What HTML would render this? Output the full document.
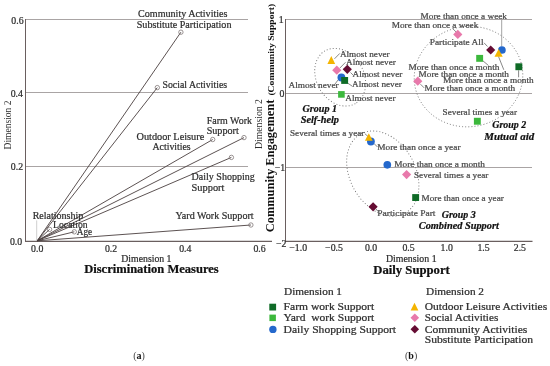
<!DOCTYPE html>
<html><head><meta charset="utf-8"><style>
html,body{margin:0;padding:0;background:#fff;}
svg{display:block;font-family:"Liberation Serif", serif;will-change:transform;}
</style></head><body>
<svg width="550" height="366" viewBox="0 0 550 366">
<rect width="550" height="366" fill="#fff"/>
<line x1="25.5" y1="19.5" x2="248.0" y2="19.5" stroke="#a9a4a4" stroke-width="1"/>
<line x1="25.5" y1="92.5" x2="248.0" y2="92.5" stroke="#a9a4a4" stroke-width="1"/>
<line x1="25.5" y1="166.5" x2="248.0" y2="166.5" stroke="#a9a4a4" stroke-width="1"/>
<line x1="25.5" y1="19.0" x2="25.5" y2="242.0" stroke="#6a5f5f" stroke-width="1"/>
<line x1="25.0" y1="241.4" x2="272.0" y2="241.4" stroke="#6a5f5f" stroke-width="1.1"/>
<text x="23.6" y="24.1" font-size="9.8" text-anchor="end" fill="#2e2e2e" stroke="#2e2e2e" stroke-width="0.22">0.6</text>
<text x="22.9" y="96.7" font-size="9.8" text-anchor="end" fill="#2e2e2e" stroke="#2e2e2e" stroke-width="0.22">0.4</text>
<text x="23.1" y="169.9" font-size="9.8" text-anchor="end" fill="#2e2e2e" stroke="#2e2e2e" stroke-width="0.22">0.2</text>
<text x="22.2" y="245.2" font-size="9.8" text-anchor="end" fill="#2e2e2e" stroke="#2e2e2e" stroke-width="0.22">0.0</text>
<text x="37.2" y="252.0" font-size="9.8" text-anchor="middle" fill="#2e2e2e" stroke="#2e2e2e" stroke-width="0.22">0.0</text>
<text x="111.1" y="252.0" font-size="9.8" text-anchor="middle" fill="#2e2e2e" stroke="#2e2e2e" stroke-width="0.22">0.2</text>
<text x="185.3" y="252.0" font-size="9.8" text-anchor="middle" fill="#2e2e2e" stroke="#2e2e2e" stroke-width="0.22">0.4</text>
<text x="259.6" y="252.0" font-size="9.8" text-anchor="middle" fill="#2e2e2e" stroke="#2e2e2e" stroke-width="0.22">0.6</text>
<text x="121.3" y="261.8" font-size="9.4" fill="#2e2e2e" stroke="#2e2e2e" stroke-width="0.22" textLength="50.2" lengthAdjust="spacingAndGlyphs">Dimension 1</text>
<text x="84.2" y="273.2" font-size="11.6" font-weight="bold" fill="#111" stroke="#111" stroke-width="0.22" textLength="134.5" lengthAdjust="spacingAndGlyphs">Discrimination Measures</text>
<text transform="translate(10.5,125) rotate(-90)" x="0" y="0" font-size="9.4" text-anchor="middle" fill="#2e2e2e" textLength="49" lengthAdjust="spacingAndGlyphs">Dimension 2</text>
<line x1="36.7" y1="220.4" x2="36.7" y2="240.5" stroke="#cfcfcf" stroke-width="1"/>
<line x1="37.2" y1="240.8" x2="180.9" y2="32.2" stroke="#4a3e3e" stroke-width="0.9"/>
<line x1="37.2" y1="240.8" x2="157.3" y2="87.6" stroke="#4a3e3e" stroke-width="0.9"/>
<line x1="37.2" y1="240.8" x2="212.7" y2="139.5" stroke="#4a3e3e" stroke-width="0.9"/>
<line x1="37.2" y1="240.8" x2="244.0" y2="137.6" stroke="#4a3e3e" stroke-width="0.9"/>
<line x1="37.2" y1="240.8" x2="231.4" y2="157.4" stroke="#4a3e3e" stroke-width="0.9"/>
<line x1="37.2" y1="240.8" x2="250.9" y2="225.0" stroke="#4a3e3e" stroke-width="0.9"/>
<line x1="37.2" y1="240.8" x2="49.6" y2="229.4" stroke="#4a3e3e" stroke-width="0.9"/>
<line x1="37.2" y1="240.8" x2="74.3" y2="231.8" stroke="#4a3e3e" stroke-width="0.9"/>
<circle cx="180.9" cy="32.2" r="2.2" fill="none" stroke="#7a7070" stroke-width="0.75"/>
<circle cx="157.3" cy="87.6" r="2.2" fill="none" stroke="#7a7070" stroke-width="0.75"/>
<circle cx="212.7" cy="139.5" r="2.2" fill="none" stroke="#7a7070" stroke-width="0.75"/>
<circle cx="244" cy="137.6" r="2.2" fill="none" stroke="#7a7070" stroke-width="0.75"/>
<circle cx="231.4" cy="157.4" r="2.2" fill="none" stroke="#7a7070" stroke-width="0.75"/>
<circle cx="250.9" cy="225" r="2.2" fill="none" stroke="#7a7070" stroke-width="0.75"/>
<circle cx="49.6" cy="229.4" r="2.2" fill="none" stroke="#7a7070" stroke-width="0.75"/>
<circle cx="74.3" cy="231.8" r="2.2" fill="none" stroke="#7a7070" stroke-width="0.75"/>
<text x="138.0" y="17.3" font-size="10.1" fill="#2e2e2e" stroke="#2e2e2e" stroke-width="0.22" textLength="89.5" lengthAdjust="spacingAndGlyphs">Community Activities</text>
<text x="136.7" y="28.2" font-size="10.1" fill="#2e2e2e" stroke="#2e2e2e" stroke-width="0.22" textLength="94.8" lengthAdjust="spacingAndGlyphs">Substitute Participation</text>
<text x="162.5" y="88.2" font-size="10.1" fill="#2e2e2e" stroke="#2e2e2e" stroke-width="0.22" textLength="64.6" lengthAdjust="spacingAndGlyphs">Social Activities</text>
<text x="206.7" y="124.2" font-size="10.1" fill="#2e2e2e" stroke="#2e2e2e" stroke-width="0.22" textLength="45.3" lengthAdjust="spacingAndGlyphs">Farm Work</text>
<text x="206.7" y="134.0" font-size="10.1" fill="#2e2e2e" stroke="#2e2e2e" stroke-width="0.22" textLength="32.0" lengthAdjust="spacingAndGlyphs">Support</text>
<text x="136.5" y="140.0" font-size="10.1" fill="#2e2e2e" stroke="#2e2e2e" stroke-width="0.22" textLength="67.7" lengthAdjust="spacingAndGlyphs">Outdoor Leisure</text>
<text x="152.5" y="150.0" font-size="10.1" fill="#2e2e2e" stroke="#2e2e2e" stroke-width="0.22" textLength="38.2" lengthAdjust="spacingAndGlyphs">Activities</text>
<text x="191.6" y="180.0" font-size="10.1" fill="#2e2e2e" stroke="#2e2e2e" stroke-width="0.22" textLength="63.1" lengthAdjust="spacingAndGlyphs">Daily Shopping</text>
<text x="191.6" y="190.9" font-size="10.1" fill="#2e2e2e" stroke="#2e2e2e" stroke-width="0.22" textLength="32.8" lengthAdjust="spacingAndGlyphs">Support</text>
<text x="175.6" y="218.6" font-size="10.1" fill="#2e2e2e" stroke="#2e2e2e" stroke-width="0.22" textLength="78.0" lengthAdjust="spacingAndGlyphs">Yard Work Support</text>
<text x="32.7" y="218.8" font-size="10.1" fill="#2e2e2e" stroke="#2e2e2e" stroke-width="0.22" textLength="50.6" lengthAdjust="spacingAndGlyphs">Relationship</text>
<text x="53.1" y="228.4" font-size="10.1" fill="#2e2e2e" stroke="#2e2e2e" stroke-width="0.22" textLength="34.5" lengthAdjust="spacingAndGlyphs">Location</text>
<text x="76.8" y="234.5" font-size="10.1" fill="#2e2e2e" stroke="#2e2e2e" stroke-width="0.22" textLength="15.4" lengthAdjust="spacingAndGlyphs">Age</text>
<line x1="285.5" y1="19.5" x2="532.0" y2="19.5" stroke="#a9a4a4" stroke-width="1"/>
<line x1="285.5" y1="93.5" x2="532.0" y2="93.5" stroke="#a9a4a4" stroke-width="1"/>
<line x1="285.5" y1="167.5" x2="532.0" y2="167.5" stroke="#a9a4a4" stroke-width="1"/>
<line x1="285.5" y1="19.0" x2="285.5" y2="242.0" stroke="#6a5f5f" stroke-width="1"/>
<line x1="285.0" y1="241.4" x2="532.5" y2="241.4" stroke="#6a5f5f" stroke-width="1.1"/>
<text x="283.6" y="23.1" font-size="9.8" text-anchor="end" fill="#2e2e2e" stroke="#2e2e2e" stroke-width="0.22">1</text>
<text x="284.4" y="96.9" font-size="9.8" text-anchor="end" fill="#2e2e2e" stroke="#2e2e2e" stroke-width="0.22">0</text>
<text x="285.2" y="170.9" font-size="9.8" text-anchor="end" fill="#2e2e2e" stroke="#2e2e2e" stroke-width="0.22">−1</text>
<text x="286.4" y="246.6" font-size="9.8" text-anchor="end" fill="#2e2e2e" stroke="#2e2e2e" stroke-width="0.22">−2</text>
<text x="298.2" y="251.3" font-size="9.8" text-anchor="middle" fill="#2e2e2e" stroke="#2e2e2e" stroke-width="0.22">−1.0</text>
<text x="334.0" y="251.3" font-size="9.8" text-anchor="middle" fill="#2e2e2e" stroke="#2e2e2e" stroke-width="0.22">−0.5</text>
<text x="371.0" y="251.3" font-size="9.8" text-anchor="middle" fill="#2e2e2e" stroke="#2e2e2e" stroke-width="0.22">0.0</text>
<text x="408.5" y="251.3" font-size="9.8" text-anchor="middle" fill="#2e2e2e" stroke="#2e2e2e" stroke-width="0.22">0.5</text>
<text x="446.7" y="251.3" font-size="9.8" text-anchor="middle" fill="#2e2e2e" stroke="#2e2e2e" stroke-width="0.22">1.0</text>
<text x="483.5" y="251.3" font-size="9.8" text-anchor="middle" fill="#2e2e2e" stroke="#2e2e2e" stroke-width="0.22">1.5</text>
<text x="519.9" y="251.3" font-size="9.8" text-anchor="middle" fill="#2e2e2e" stroke="#2e2e2e" stroke-width="0.22">2.5</text>
<text x="386.0" y="261.8" font-size="9.4" fill="#2e2e2e" stroke="#2e2e2e" stroke-width="0.22" textLength="50.6" lengthAdjust="spacingAndGlyphs">Dimension 1</text>
<text x="373.3" y="273.8" font-size="11.6" font-weight="bold" fill="#111" stroke="#111" stroke-width="0.22" textLength="76.5" lengthAdjust="spacingAndGlyphs">Daily Support</text>
<text transform="translate(262.2,124) rotate(-90)" x="0" y="0" font-size="9.4" text-anchor="middle" fill="#2e2e2e" textLength="50" lengthAdjust="spacingAndGlyphs">Dimension 2</text>
<text transform="translate(274.0,232.2) rotate(-90)" x="0" y="0" font-size="12.2" font-weight="bold" fill="#111" textLength="132.6" lengthAdjust="spacingAndGlyphs">Community Engagement</text>
<text transform="translate(273.6,95.6) rotate(-90)" x="0" y="0" font-size="8.8" font-weight="bold" fill="#111" textLength="91.8" lengthAdjust="spacingAndGlyphs">(Community Support)</text>
<ellipse cx="340.2" cy="77.2" rx="30.4" ry="23.6" transform="rotate(60.1 340.2 77.2)" stroke="#707070" stroke-width="0.9" stroke-dasharray="1 2.1" fill="none"/>
<ellipse cx="468.5" cy="76.6" rx="54.4" ry="50.1" transform="rotate(-9.9 468.5 76.6)" stroke="#707070" stroke-width="0.9" stroke-dasharray="1 2.1" fill="none"/>
<ellipse cx="382.8" cy="173.6" rx="45.4" ry="32.6" transform="rotate(60.5 382.8 173.6)" stroke="#707070" stroke-width="0.9" stroke-dasharray="1 2.1" fill="none"/>
<line x1="334.5" y1="58.8" x2="339.8" y2="53.4" stroke="#555" stroke-width="0.7"/>
<line x1="339.6" y1="68.3" x2="345.5" y2="62.3" stroke="#555" stroke-width="0.7"/>
<line x1="350.5" y1="72.5" x2="353.5" y2="75.5" stroke="#555" stroke-width="0.7"/>
<line x1="347.5" y1="83.0" x2="352.0" y2="86.0" stroke="#555" stroke-width="0.7"/>
<line x1="338.0" y1="80.0" x2="335.0" y2="84.0" stroke="#555" stroke-width="0.7"/>
<polygon points="331.3,55.9 335.2,64.1 327.40000000000003,64.1" fill="#f4b400"/>
<polygon points="336.8,65.60000000000001 341.40000000000003,70.2 336.8,74.8 332.2,70.2" fill="#e879ab"/>
<polygon points="347.3,64.7 351.90000000000003,69.3 347.3,73.89999999999999 342.7,69.3" fill="#650c33"/>
<circle cx="341.4" cy="77.5" r="3.9" fill="#2468cc"/>
<rect x="341.2" y="77.0" width="6.9" height="6.9" fill="#0f6b27"/>
<rect x="338.1" y="91.1" width="6.6" height="6.6" fill="#3cb83c"/>
<text x="339.9" y="56.6" font-size="8.3" fill="#484848" stroke="#484848" stroke-width="0.22" textLength="49.8" lengthAdjust="spacingAndGlyphs">Almost never</text>
<text x="346.0" y="64.6" font-size="8.3" fill="#484848" stroke="#484848" stroke-width="0.22" textLength="49.8" lengthAdjust="spacingAndGlyphs">Almost never</text>
<text x="352.5" y="76.8" font-size="8.3" fill="#484848" stroke="#484848" stroke-width="0.22" textLength="49.8" lengthAdjust="spacingAndGlyphs">Almost never</text>
<text x="352.0" y="87.0" font-size="8.3" fill="#484848" stroke="#484848" stroke-width="0.22" textLength="49.8" lengthAdjust="spacingAndGlyphs">Almost never</text>
<text x="288.5" y="87.5" font-size="8.3" fill="#484848" stroke="#484848" stroke-width="0.22" textLength="50.2" lengthAdjust="spacingAndGlyphs">Almost never</text>
<text x="345.3" y="100.6" font-size="8.3" fill="#484848" stroke="#484848" stroke-width="0.22" textLength="50.2" lengthAdjust="spacingAndGlyphs">Almost never</text>
<line x1="501.7" y1="19.5" x2="501.7" y2="46.5" stroke="#8a8a8a" stroke-width="0.8"/>
<line x1="452.4" y1="28.3" x2="456.0" y2="31.9" stroke="#555" stroke-width="0.7"/>
<line x1="484.0" y1="42.8" x2="487.5" y2="46.5" stroke="#555" stroke-width="0.7"/>
<line x1="482.5" y1="60.5" x2="488.5" y2="65.5" stroke="#555" stroke-width="0.7"/>
<line x1="498.5" y1="56.5" x2="503.8" y2="69.8" stroke="#555" stroke-width="0.7"/>
<line x1="518.6" y1="70.3" x2="518.6" y2="77.3" stroke="#555" stroke-width="0.7"/>
<line x1="420.5" y1="84.2" x2="424.2" y2="87.9" stroke="#555" stroke-width="0.7"/>
<polygon points="457.8,29.799999999999997 462.40000000000003,34.4 457.8,39.0 453.2,34.4" fill="#e879ab"/>
<polygon points="490.7,45.4 495.3,50 490.7,54.6 486.09999999999997,50" fill="#650c33"/>
<circle cx="501.9" cy="50" r="3.85" fill="#2468cc"/>
<polygon points="498.6,49.0 502.70000000000005,56.8 494.5,56.8" fill="#f4b400"/>
<rect x="476.2" y="54.9" width="6.9" height="6.9" fill="#3cb83c"/>
<rect x="515.4" y="63.3" width="6.9" height="6.9" fill="#0f6b27"/>
<polygon points="417.8,76.60000000000001 422.40000000000003,81.2 417.8,85.8 413.2,81.2" fill="#e879ab"/>
<rect x="473.9" y="117.8" width="6.9" height="6.9" fill="#3cb83c"/>
<text x="420.5" y="18.9" font-size="8.3" fill="#484848" stroke="#484848" stroke-width="0.22" textLength="86.5" lengthAdjust="spacingAndGlyphs">More than once a week</text>
<text x="391.7" y="27.6" font-size="8.3" fill="#484848" stroke="#484848" stroke-width="0.22" textLength="86.7" lengthAdjust="spacingAndGlyphs">More than once a week</text>
<text x="429.7" y="44.5" font-size="8.3" fill="#484848" stroke="#484848" stroke-width="0.22" textLength="53.8" lengthAdjust="spacingAndGlyphs">Participate All</text>
<text x="408.4" y="69.5" font-size="8.3" fill="#484848" stroke="#484848" stroke-width="0.22" textLength="91.0" lengthAdjust="spacingAndGlyphs">More than once a month</text>
<text x="418.6" y="76.5" font-size="8.3" fill="#484848" stroke="#484848" stroke-width="0.22" textLength="90.4" lengthAdjust="spacingAndGlyphs">More than once a month</text>
<text x="442.9" y="83.4" font-size="8.3" fill="#484848" stroke="#484848" stroke-width="0.22" textLength="90.8" lengthAdjust="spacingAndGlyphs">More than once a month</text>
<text x="424.4" y="91.0" font-size="8.3" fill="#484848" stroke="#484848" stroke-width="0.22" textLength="90.8" lengthAdjust="spacingAndGlyphs">More than once a month</text>
<text x="442.6" y="114.9" font-size="8.3" fill="#484848" stroke="#484848" stroke-width="0.22" textLength="74.4" lengthAdjust="spacingAndGlyphs">Several times a year</text>
<text x="492.3" y="127.6" font-size="10.2" font-weight="bold" font-style="italic" fill="#111" stroke="#111" stroke-width="0.22" textLength="34.0" lengthAdjust="spacingAndGlyphs">Group 2</text>
<text x="484.3" y="139.6" font-size="10.2" font-weight="bold" font-style="italic" fill="#111" stroke="#111" stroke-width="0.22" textLength="50.0" lengthAdjust="spacingAndGlyphs">Mutual aid</text>
<text x="302.6" y="111.6" font-size="10.2" font-weight="bold" font-style="italic" fill="#111" stroke="#111" stroke-width="0.22" textLength="34.4" lengthAdjust="spacingAndGlyphs">Group 1</text>
<text x="300.7" y="123.3" font-size="10.2" font-weight="bold" font-style="italic" fill="#111" stroke="#111" stroke-width="0.22" textLength="38.3" lengthAdjust="spacingAndGlyphs">Self-help</text>
<line x1="365.0" y1="133.8" x2="368.0" y2="136.5" stroke="#555" stroke-width="0.7"/>
<line x1="374.0" y1="143.5" x2="377.5" y2="147.0" stroke="#555" stroke-width="0.7"/>
<line x1="376.0" y1="209.0" x2="378.0" y2="211.5" stroke="#555" stroke-width="0.7"/>
<circle cx="370.9" cy="141.5" r="3.9" fill="#2468cc"/>
<polygon points="368.8,133.3 372.7,140.7 364.90000000000003,140.7" fill="#f4b400"/>
<circle cx="387.3" cy="164.8" r="3.85" fill="#2468cc"/>
<polygon points="406.6,170.0 411.20000000000005,174.6 406.6,179.2 402.0,174.6" fill="#e879ab"/>
<rect x="412.2" y="194.1" width="6.9" height="6.9" fill="#0f6b27"/>
<polygon points="373.1,202.20000000000002 377.70000000000005,206.8 373.1,211.4 368.5,206.8" fill="#650c33"/>
<text x="290.0" y="135.6" font-size="8.3" fill="#484848" stroke="#484848" stroke-width="0.22" textLength="74.4" lengthAdjust="spacingAndGlyphs">Several times a year</text>
<text x="377.3" y="150.0" font-size="8.3" fill="#484848" stroke="#484848" stroke-width="0.22" textLength="83.2" lengthAdjust="spacingAndGlyphs">More than once a year</text>
<text x="394.3" y="167.1" font-size="8.3" fill="#484848" stroke="#484848" stroke-width="0.22" textLength="90.6" lengthAdjust="spacingAndGlyphs">More than once a month</text>
<text x="414.0" y="177.9" font-size="8.3" fill="#484848" stroke="#484848" stroke-width="0.22" textLength="74.4" lengthAdjust="spacingAndGlyphs">Several times a year</text>
<text x="421.6" y="201.0" font-size="8.3" fill="#484848" stroke="#484848" stroke-width="0.22" textLength="82.2" lengthAdjust="spacingAndGlyphs">More than once a year</text>
<text x="377.3" y="215.5" font-size="8.3" fill="#484848" stroke="#484848" stroke-width="0.22" textLength="58.2" lengthAdjust="spacingAndGlyphs">Participate Part</text>
<text x="441.8" y="217.6" font-size="10.2" font-weight="bold" font-style="italic" fill="#111" stroke="#111" stroke-width="0.22" textLength="34.0" lengthAdjust="spacingAndGlyphs">Group 3</text>
<text x="418.8" y="228.7" font-size="10.2" font-weight="bold" font-style="italic" fill="#111" stroke="#111" stroke-width="0.22" textLength="80.0" lengthAdjust="spacingAndGlyphs">Combined Support</text>
<text x="284.0" y="294.9" font-size="10.0" fill="#2e2e2e" stroke="#2e2e2e" stroke-width="0.22" textLength="58.0" lengthAdjust="spacingAndGlyphs">Dimension 1</text>
<rect x="269.3" y="303.7" width="6.8" height="6.8" fill="#0f6b27"/>
<rect x="269.4" y="314.6" width="6.5" height="6.5" fill="#3cb83c"/>
<circle cx="272.9" cy="329.4" r="3.7" fill="#2468cc"/>
<text x="283.6" y="309.8" font-size="10.0" fill="#2e2e2e" stroke="#2e2e2e" stroke-width="0.22" textLength="90.6" lengthAdjust="spacingAndGlyphs">Farm work Support</text>
<text x="283.6" y="321.1" font-size="10.0" fill="#2e2e2e" stroke="#2e2e2e" stroke-width="0.22" textLength="90.6" lengthAdjust="spacingAndGlyphs">Yard&#160; work Support</text>
<text x="283.6" y="332.7" font-size="10.0" fill="#2e2e2e" stroke="#2e2e2e" stroke-width="0.22" textLength="112.5" lengthAdjust="spacingAndGlyphs">Daily Shopping Support</text>
<text x="426.0" y="295.1" font-size="10.0" fill="#2e2e2e" stroke="#2e2e2e" stroke-width="0.22" textLength="58.0" lengthAdjust="spacingAndGlyphs">Dimension 2</text>
<polygon points="414.5,302.75 418.4,310.45000000000005 410.6,310.45000000000005" fill="#f4b400"/>
<polygon points="414.8,313.5 419.1,317.8 414.8,322.1 410.5,317.8" fill="#e879ab"/>
<polygon points="414.8,325.0 419.1,329.3 414.8,333.6 410.5,329.3" fill="#650c33"/>
<text x="424.7" y="309.9" font-size="10.0" fill="#2e2e2e" stroke="#2e2e2e" stroke-width="0.22" textLength="122.5" lengthAdjust="spacingAndGlyphs">Outdoor Leisure Activities</text>
<text x="424.7" y="321.4" font-size="10.0" fill="#2e2e2e" stroke="#2e2e2e" stroke-width="0.22" textLength="73.6" lengthAdjust="spacingAndGlyphs">Social Activities</text>
<text x="424.7" y="332.5" font-size="10.0" fill="#2e2e2e" stroke="#2e2e2e" stroke-width="0.22" textLength="102.6" lengthAdjust="spacingAndGlyphs">Community Activities</text>
<text x="424.7" y="342.7" font-size="10.0" fill="#2e2e2e" stroke="#2e2e2e" stroke-width="0.22" textLength="108.4" lengthAdjust="spacingAndGlyphs">Substitute Participation</text>
<text x="139.1" y="359.4" font-size="10" text-anchor="middle" fill="#444">(<tspan font-weight="bold" fill="#111">a</tspan>)</text>
<text x="411.1" y="359.3" font-size="10" text-anchor="middle" fill="#444">(<tspan font-weight="bold" fill="#111">b</tspan>)</text>
</svg>
</body></html>
